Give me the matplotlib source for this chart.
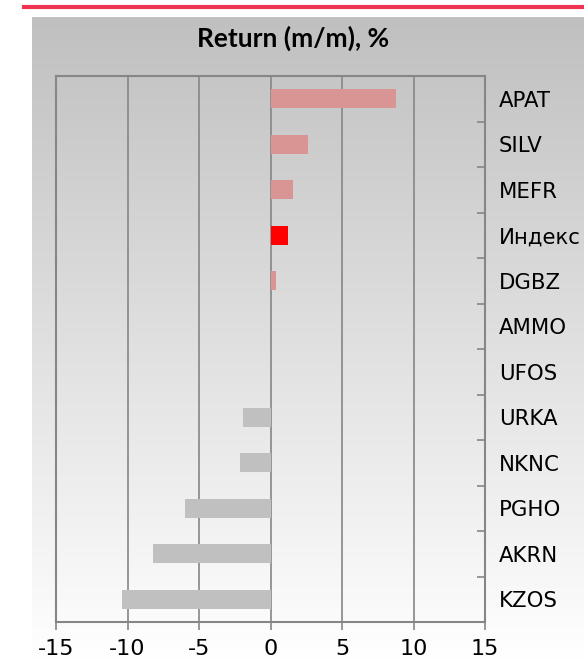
import numpy as np
import matplotlib
matplotlib.use("Agg")
import matplotlib.pyplot as plt
from matplotlib.lines import Line2D

plt.rcParams["font.family"] = ["DejaVu Sans"]

categories = ["APAT", "SILV", "MEFR", "Индекс", "DGBZ", "AMMO", "UFOS",
              "URKA", "NKNC", "PGHO", "AKRN", "KZOS"]
values = [8.8, 2.6, 1.6, 1.2, 0.35, 0.0, 0.0, -1.95, -2.1, -6.0, -8.2, -10.35]
title = "Return (m/m), %"
xticks = [-15, -10, -5, 0, 5, 10, 15]

W, H = 584, 660
fig = plt.figure(figsize=(W / 100, H / 100), dpi=100)

# gradient background
bg = fig.add_axes([32 / W, 0, 1 - 32 / W, (H - 17) / H])
grad = np.linspace(0, 1, 256).reshape(-1, 1)
top = np.array([192, 192, 192]) / 255
bot = np.array([255, 255, 255]) / 255
img = top[None, None, :] * (1 - grad[:, :, None]) + bot[None, None, :] * grad[:, :, None]
bg.imshow(img, aspect="auto", extent=[0, 1, 0, 1], origin="upper")
bg.set_axis_off()
bg.set_zorder(-10)

# red top line
fig.add_artist(Line2D([24 / W, 1], [(H - 7) / H, (H - 7) / H], color="#ef3350",
                      linewidth=3.0, transform=fig.transFigure))

ax = fig.add_axes([56 / W, (H - 622) / H, (485 - 56) / W, (622 - 76) / H])
ax.set_facecolor("none")
y = np.arange(len(categories))
colors = []
for c, v in zip(categories, values):
    if c == "Индекс":
        colors.append("#ff0000")
    elif v >= 0:
        colors.append("#d99594")
    else:
        colors.append("#c0c0c0")
ax.barh(y, values, height=0.42, color=colors, zorder=3)

ax.set_xlim(-15, 15)
ax.set_ylim(len(categories) - 0.5, -0.5)
ax.set_xticks(xticks)
ax.set_xticklabels([str(t) for t in xticks], fontsize=16)
ax.grid(axis="x", color="#868686", linewidth=1.2, zorder=1)
ax.tick_params(axis="x", direction="out", length=6, width=1.2, color="#868686", pad=6)

ax.yaxis.tick_right()
ax.set_yticks(y)
ax.set_yticklabels(categories, fontsize=15.3)
ax.tick_params(axis="y", which="major", length=0, pad=10)
ax.set_yticks(np.arange(0.5, len(categories) - 0.5, 1.0), minor=True)
ax.tick_params(axis="y", which="minor", direction="in", length=6, width=1.2,
               color="#868686", right=True, left=False)

for s in ["left", "right", "top", "bottom"]:
    ax.spines[s].set_color("#868686")
    ax.spines[s].set_linewidth(1.5)

fig.text(293 / W, (H - 47) / H, title, ha="center", va="baseline",
         fontsize=19, fontweight="bold", family=["Lato", "DejaVu Sans"])

fig.savefig("out.png", dpi=100)
